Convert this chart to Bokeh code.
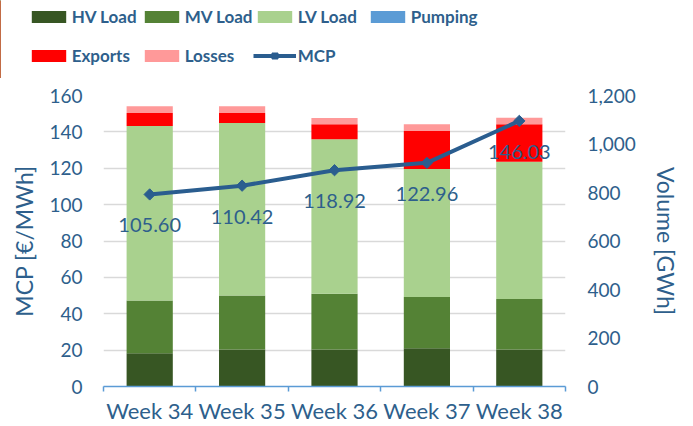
from bokeh.plotting import figure
from bokeh.layouts import column
from bokeh.models import (ColumnDataSource, Range1d, LinearAxis, FixedTicker,
                          NumeralTickFormatter, Legend, LegendItem)
from bokeh.embed import file_html
from bokeh.resources import INLINE
from bokeh.core.properties import value

weeks = ["Week 34", "Week 35", "Week 36", "Week 37", "Week 38"]
hv_load = [137, 153, 153, 158, 153]
mv_load = [218, 222, 229, 211, 208]
lv_load = [719, 712, 638, 528, 566]
pumping = [0, 0, 0, 0, 0]
exports = [54, 41, 61, 157, 154]
losses = [28, 28, 26, 27, 27]
mcp = [105.60, 110.42, 118.92, 122.96, 146.03]
mcp_labels = [f"{v:.2f}" for v in mcp]
left_ticks = [0, 20, 40, 60, 80, 100, 120, 140, 160]
right_ticks = [0, 200, 400, 600, 800, 1000, 1200]
series_names = ["HV Load", "MV Load", "LV Load", "Pumping", "Exports", "Losses"]

TXT = "#2E5F8C"
LINE = "#2A5D8F"
FONT = "Lato"
colors = ["#375623", "#548235", "#A9D18E", "#5B9BD5", "#FF0000", "#FF9999"]

n = len(weeks)
xpos = [i + 0.5 for i in range(n)]          # category centres
bounds = [float(i) for i in range(n + 1)]   # category boundaries

W, H = 693, 426
LH = 78                      # legend strip height
MH = H - LH                  # main chart height

# ---------------- main chart ----------------
p = figure(width=W, height=MH, x_range=Range1d(0, n), y_range=Range1d(0, 160),
           output_backend="svg", toolbar_location=None, title=None,
           min_border_left=103, min_border_right=128, min_border_top=17, min_border_bottom=39)
p.outline_line_color = None
p.extra_y_ranges = {"vol": Range1d(0, 1200)}

src = ColumnDataSource(dict(x=xpos, week=weeks, hv=hv_load, mv=mv_load, lv=lv_load,
                            pump=pumping, exp=exports, loss=losses, mcp=mcp, lab=mcp_labels))
stack = ["hv", "mv", "lv", "pump", "exp", "loss"]
bars = p.vbar_stack(stack, x="x", width=0.5, color=colors, source=src,
                    y_range_name="vol", line_color=None)

ln = p.line("x", "mcp", source=src, line_color=LINE, line_width=4)
mk = p.scatter("x", "mcp", source=src, marker="square", angle=0.785, size=8,
               color=LINE)
p.text("x", "mcp", text="lab", source=src, y_offset=31, text_align="center",
       text_baseline="middle", text_font=value(FONT), text_font_size="20px",
       text_color=TXT)

p.xgrid.visible = False
p.ygrid.grid_line_color = "#D9D9D9"
p.ygrid.grid_line_width = 1.5

ya = p.yaxis[0]
ya.ticker = FixedTicker(ticks=left_ticks)
ya.axis_line_color = None
ya.major_tick_line_color = None
ya.minor_tick_line_color = None
ya.major_tick_out = 0
ya.major_label_standoff = 21
ya.major_label_text_font = FONT
ya.major_label_text_font_size = "19px"
ya.major_label_text_color = TXT
ya.axis_label = "MCP [€/MWh]"
ya.axis_label_text_font = FONT
ya.axis_label_text_font_size = "23px"
ya.axis_label_text_font_style = "normal"
ya.axis_label_text_color = TXT
ya.axis_label_standoff = 8

yr = LinearAxis(y_range_name="vol", ticker=FixedTicker(ticks=right_ticks),
                formatter=NumeralTickFormatter(format="0,0"))
yr.axis_line_color = None
yr.major_tick_line_color = None
yr.minor_tick_line_color = None
yr.major_tick_out = 0
yr.major_label_standoff = 22
yr.major_label_text_font = FONT
yr.major_label_text_font_size = "19px"
yr.major_label_text_color = TXT
yr.axis_label = "Volume [GWh]"
yr.axis_label_text_font = FONT
yr.axis_label_text_font_size = "23px"
yr.axis_label_text_font_style = "normal"
yr.axis_label_text_color = TXT
yr.axis_label_standoff = 13
p.add_layout(yr, "right")

xa = p.xaxis[0]
xa.ticker = FixedTicker(ticks=xpos, minor_ticks=bounds)
xa.major_label_overrides = {x: w for x, w in zip(xpos, weeks)}
xa.axis_line_color = "#5B9BD5"
xa.axis_line_width = 1.5
xa.major_tick_line_color = None
xa.major_tick_in = 0
xa.major_tick_out = 0
xa.minor_tick_line_color = "#5B9BD5"
xa.minor_tick_line_width = 1.5
xa.minor_tick_in = 0
xa.minor_tick_out = 5
xa.major_label_text_font = FONT
xa.major_label_text_font_size = "22px"
xa.major_label_text_color = TXT
xa.major_label_standoff = 5

# ---------------- legend strip ----------------
# ranges chosen so the proxy glyphs lie outside the visible area
lf = figure(width=W, height=LH, x_range=Range1d(100, 101), y_range=Range1d(100, 101),
            output_backend="svg", toolbar_location=None, title=None,
            min_border_left=0, min_border_right=0, min_border_top=0, min_border_bottom=0)
lf.outline_line_color = None
lf.axis.visible = False
lf.grid.visible = False
proxies = [lf.vbar(x="x", top=col, width=0.5, color=c, line_color=None, source=src)
           for col, c in zip(stack, colors)]
pl = lf.line(x="x", y="mcp", source=src, line_color=LINE, line_width=4)
pm = lf.scatter(x="x", y="mcp", source=src, marker="square", angle=0.785, size=8, color=LINE)

try:
    lf.frame_align = False
    p.frame_align = False
except Exception:
    pass

common = dict(orientation="horizontal", glyph_width=43, glyph_height=15, label_height=15,
              label_width=68, label_standoff=2, spacing=0, padding=0, margin=0,
              border_line_color=None, background_fill_alpha=0,
              label_text_font=FONT, label_text_font_style="bold",
              label_text_font_size="17px", label_text_color=TXT)
row1 = Legend(items=[LegendItem(label=series_names[i], renderers=[proxies[i]]) for i in range(4)],
              location=(26.7, LH - 26.5), **common)
row2 = Legend(items=[LegendItem(label=series_names[i], renderers=[proxies[i]]) for i in (4, 5)]
              + [LegendItem(label="MCP", renderers=[pl, pm])],
              location=(26.7, LH - 66), **common)
lf.add_layout(row1)
lf.add_layout(row2)

layout = column(lf, p, spacing=0)
open("out.html", "w").write(file_html(layout, INLINE))
